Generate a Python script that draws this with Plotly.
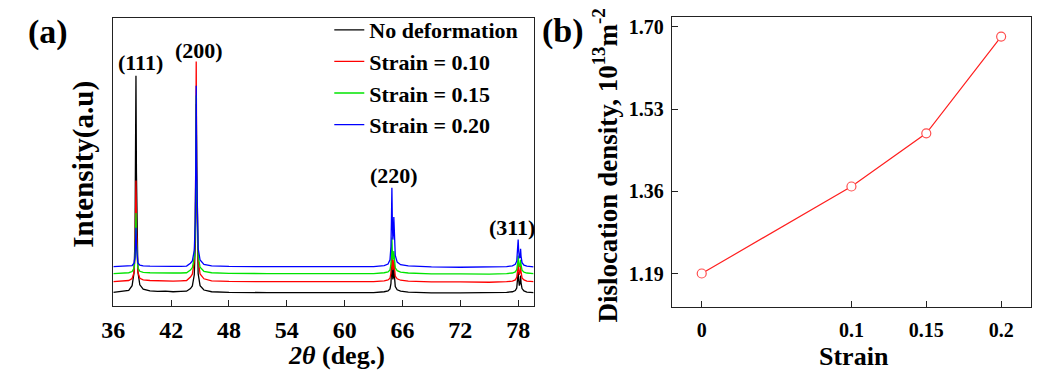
import plotly.graph_objects as go

# ---------------- Panel (a): XRD patterns ----------------
two_theta = [
    # (111) region
    36.0, 37.0, 37.6, 37.95, 38.15, 38.25, 38.30, 38.35, 38.40, 38.45, 38.55, 38.75, 39.1,
    # flat
    39.8, 40.6, 41.4, 42.2, 43.0, 43.6,
    # (200) region
    44.0, 44.2, 44.4, 44.5, 44.55, 44.6, 44.65, 44.7, 44.8, 45.0, 45.4, 46.2,
    # flat
    48.0, 52.0, 56.0, 60.0, 63.0,
    # (220) region
    64.1, 64.5, 64.7, 64.8, 64.85, 64.9, 64.95, 65.0, 65.05, 65.1, 65.15, 65.25, 65.45, 65.8, 66.6,
    # flat
    69.0, 72.0, 75.0,
    # (311) region
    76.8, 77.4, 77.7, 77.85, 77.95, 78.0, 78.05, 78.12, 78.2, 78.25, 78.3, 78.4, 78.6, 78.9, 79.6,
]

int_no_deformation = [
    47, 50, 54, 70, 115, 235, 460, 798, 460, 236, 118, 73, 58,
    52, 50, 51, 49, 50, 51,
    60, 69, 108, 212, 407, 700, 407, 215, 112, 70, 55, 49,
    47, 46, 46, 45, 46,
    49, 52, 59, 77, 112, 165, 115, 92, 100, 130, 100, 67, 56, 51, 48,
    45, 45, 45,
    47, 49, 53, 62, 88, 118, 90, 70, 80, 105, 80, 60, 52, 48, 46,
]

int_strain_010 = [
    84, 86, 88, 95, 116, 172, 277, 435, 277, 173, 117, 96, 90,
    88, 87, 88, 86, 87, 88,
    100, 110, 155, 277, 506, 848, 506, 282, 160, 111, 94, 87,
    85, 84, 84, 83, 84,
    87, 90, 96, 113, 145, 193, 148, 125, 132, 160, 130, 103, 94, 89, 86,
    83, 83, 82,
    84, 86, 90, 99, 125, 152, 127, 108, 118, 140, 118, 97, 90, 86, 84,
]

int_strain_015 = [
    112, 113, 115, 119, 131, 165, 228, 322, 228, 165, 132, 120, 116,
    115, 114, 115, 114, 114, 115,
    124, 133, 169, 268, 453, 730, 453, 272, 174, 134, 120, 115,
    113, 112, 112, 111, 112,
    115, 118, 125, 145, 180, 237, 185, 160, 165, 190, 160, 132, 122, 117, 114,
    111, 111, 110,
    112, 114, 118, 126, 150, 175, 152, 135, 142, 160, 142, 124, 117, 114, 112,
]

int_strain_020 = [
    136, 137, 138, 140, 148, 170, 210, 271, 210, 170, 149, 141, 139,
    138, 137, 138, 137, 137, 138,
    148, 156, 193, 294, 482, 764, 482, 300, 200, 159, 144, 139,
    137, 136, 136, 135, 136,
    140, 145, 160, 205, 290, 410, 290, 230, 250, 308, 240, 175, 152, 143, 139,
    135, 134, 134,
    136, 139, 144, 155, 190, 230, 192, 165, 172, 198, 172, 150, 141, 138, 135,
]

series_names = ["No deformation", "Strain = 0.10", "Strain = 0.15", "Strain = 0.20"]
series_colors = ["#000000", "#FF0000", "#00E400", "#0000FF"]

peak_labels = ["(111)", "(200)", "(220)", "(311)"]
peak_label_x = [38.82, 44.92, 65.09, 77.4]
peak_label_y = [844, 887, 452, 271]

xrd_ticks = [36, 42, 48, 54, 60, 66, 72, 78]

# ---------------- Panel (b): dislocation density ----------------
strain = [0, 0.1, 0.15, 0.2]
dislocation_density = [1.19, 1.37, 1.48, 1.68]
strain_ticks = [0, 0.1, 0.15, 0.2]
strain_ticktext = ["0", "0.1", "0.15", "0.2"]
density_ticks = [1.19, 1.36, 1.53, 1.70]
density_ticktext = ["1.19", "1.36", "1.53", "1.70"]

FONT = "Liberation Serif, Times New Roman, serif"
W, H = 1038, 371
AX = "#222222"

fig = go.Figure()

intensities = [int_no_deformation, int_strain_010, int_strain_015, int_strain_020]
for name, color, ys in zip(series_names, series_colors, intensities):
    fig.add_trace(go.Scatter(
        x=two_theta, y=ys, mode="lines", name=name,
        line=dict(color=color, width=1.3),
        xaxis="x", yaxis="y",
    ))

fig.add_trace(go.Scatter(
    x=strain, y=dislocation_density, mode="lines+markers",
    line=dict(color="#FF2020", width=1.2),
    marker=dict(symbol="circle", size=9, color="white",
                line=dict(color="#FF5050", width=1.2)),
    xaxis="x2", yaxis="y2", showlegend=False,
))

def px_x(p):
    return p / W

def px_y(p):
    return 1 - p / H

axis_common = dict(showline=True, linecolor=AX, linewidth=1.3, mirror=True,
                   showgrid=False, zeroline=False, ticks="inside",
                   tickcolor=AX, tickwidth=1.3)

fig.update_layout(
    width=W, height=H,
    margin=dict(l=0, r=0, t=0, b=0),
    paper_bgcolor="white", plot_bgcolor="white",
    font=dict(family=FONT, color="black"),
    showlegend=True,
    legend=dict(
        x=px_x(321), y=px_y(8), xanchor="left", yanchor="top",
        bgcolor="rgba(0,0,0,0)", borderwidth=0,
        font=dict(family=FONT, size=22, color="black", weight="bold"),
        tracegroupgap=0,
    ),
    xaxis=dict(
        domain=[px_x(102.5), px_x(527.7)], anchor="y",
        range=[36, 79.6], tickvals=xrd_ticks, ticklen=6,
        tickfont=dict(family=FONT, size=24, color="black", weight="bold"),
        ticklabelstandoff=2,
        **axis_common,
    ),
    yaxis=dict(
        domain=[px_y(305.7), px_y(16.7)], anchor="x",
        range=[0, 1000], showticklabels=False,
        showline=True, linecolor=AX, linewidth=1.3, mirror=True,
        showgrid=False, zeroline=False, ticks="",
    ),
    xaxis2=dict(
        domain=[px_x(667.5), px_x(1031)], anchor="y2",
        range=[-0.02, 0.22], tickvals=strain_ticks, ticktext=strain_ticktext,
        ticklen=6,
        tickfont=dict(family=FONT, size=20, color="black", weight="bold"),
        ticklabelstandoff=5,
        **axis_common,
    ),
    yaxis2=dict(
        domain=[px_y(306.7), px_y(16.3)], anchor="x2",
        range=[1.121, 1.72], tickvals=density_ticks, ticktext=density_ticktext,
        ticklen=6,
        tickfont=dict(family=FONT, size=20, color="black", weight="bold"),
        ticklabelstandoff=3,
        **axis_common,
    ),
)

annotations = []
for lab, lx, ly in zip(peak_labels, peak_label_x, peak_label_y):
    annotations.append(dict(
        x=lx, y=ly, xref="x", yref="y", text="<b>%s</b>" % lab, showarrow=False,
        font=dict(family=FONT, size=22, color="black"),
        xanchor="center", yanchor="middle",
    ))

def paper_text(text, x, y, size, angle=0):
    return dict(x=px_x(x), y=px_y(y), xref="paper", yref="paper", text=text,
                showarrow=False, textangle=angle,
                font=dict(family=FONT, size=size, color="black"),
                xanchor="center", yanchor="middle")

annotations += [
    paper_text("<b>(a)</b>", 36, 31, 34),
    paper_text("<b>(b)</b>", 557, 30, 34),
    paper_text("<b><i>2θ</i> (deg.)</b>", 328, 355, 26),
    paper_text("<b>Strain</b>", 852, 356, 26),
    paper_text("<b>Intensity(a.u)</b>", 72, 164, 29, -90),
    paper_text("<b>Dislocation density, 10<sup>13</sup>m<sup>-2</sup></b>", 600, 165, 27, -90),
]
fig.update_layout(annotations=annotations)

fig.write_html(
    "out.html",
    config={"displayModeBar": False},
    post_script="document.body.style.margin='0';document.body.style.padding='0';"
                "document.body.style.overflow='hidden';",
)
